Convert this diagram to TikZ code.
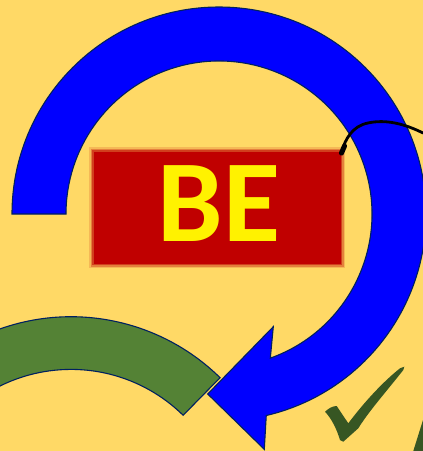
\documentclass[tikz,border=0pt]{standalone}
\usepackage{fontspec}
\usetikzlibrary{calc}
\setmainfont{Carlito}
\definecolor{bg}{RGB}{255,217,102}
\definecolor{arcblue}{RGB}{0,0,255}
\definecolor{navy}{RGB}{0,32,96}
\definecolor{arcgreen}{RGB}{84,130,53}
\definecolor{darkred}{RGB}{192,0,0}
\definecolor{checkgreen}{RGB}{55,86,35}
\tikzset{
  shapeline/.style={draw=navy, line width=1.1pt, line join=miter},
  redsoft/.style={fill=darkred, fill opacity=#1},
}
\begin{document}
\begin{tikzpicture}[x=1pt,y=-1pt]
\fill[bg] (0,0) rectangle (423,451);
\useasboundingbox (0,0) rectangle (423,451);
\clip (0,0) rectangle (423,451);
\coordinate (bc) at (219,214);
\coordinate (gc) at (71,529.4);
% green arc
\path[fill=arcgreen, shapeline]
  ($(gc)+({212.7*cos(-45.5)},{212.7*sin(-45.5)})$) coordinate (g1)
  arc[start angle=-45.5, end angle=-150, radius=212.7]
  -- ($(gc)+({160*cos(-150)},{160*sin(-150)})$)
  arc[start angle=-150, end angle=-45.5, radius=160] -- cycle;
% blue circular arrow
\path[fill=arcblue, shapeline]
  ($(bc)+(-207,0)$) coordinate (b0)
  arc[start angle=180, end angle=436.8, radius=207]
  -- (264.3,449.3) coordinate (bb)
  -- (207.7,394) coordinate (btip)
  -- (273.3,326.7) coordinate (bt)
  -- ($(bc)+({153*cos(430.4)},{153*sin(430.4)})$)
  arc[start angle=430.4, end angle=180, radius=153] -- cycle;
% red soft rectangle
\fill[redsoft=0.15] (89,147) rectangle (345,268);
\fill[redsoft=0.3] (90.5,148.5) rectangle (343.5,266.5);
\fill[redsoft=0.5] (92,150) rectangle (342,265);
\fill[darkred] (93.5,151.5) rectangle (340.5,263.5);
\node[inner sep=0pt, text=yellow, font=\fontsize{117}{117}\selectfont\bfseries] (be) at (218.7,203.7) {BE};
% black curve
\coordinate (k0) at (342,151);
\coordinate (k1) at (423,133);
\draw[black, line width=2.8pt, line cap=round] (k0) .. controls (345,140) and (352,126) .. (368,123) .. controls (386,119) and (405,124) .. (k1);
\draw[black, line width=5pt, line cap=round] (341.5,153) -- (344.5,146);
% check mark
\fill[checkgreen] (325,411.7) .. controls (329,408) and (333,406) .. (336.7,406)
  -- (348.3,423.3) .. controls (365,401) and (384,381) .. (400,368.3)
  -- (404.3,366.7) -- (403.3,370)
  .. controls (386,392) and (369,411) .. (358.3,428.3)
  -- (343.3,441.7) -- (340,440) .. controls (337,430) and (332,419) .. cycle;
\fill[checkgreen] (413.3,451) -- (423,420) -- (423,451) -- cycle;
\end{tikzpicture}
\end{document}
